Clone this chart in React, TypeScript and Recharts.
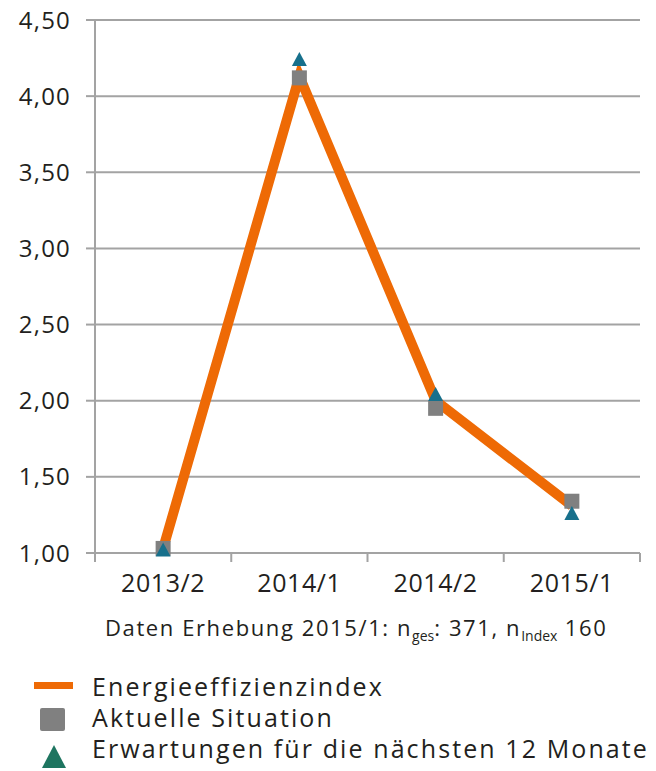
import { ComposedChart, Line, XAxis, YAxis, CartesianGrid } from 'recharts'

const perioden = ['2013/2', '2014/1', '2014/2', '2015/1']
const energieIndex = [1.03, 4.13, 2.0, 1.31]
const aktuelleSituation = [1.03, 4.12, 1.95, 1.34]
const erwartungen = [1.02, 4.24, 2.04, 1.26]
const yTicks = [1, 1.5, 2, 2.5, 3, 3.5, 4, 4.5]

const data = perioden.map((p, i) => ({
  periode: p,
  index: energieIndex[i],
  aktuell: aktuelleSituation[i],
  erwartung: erwartungen[i],
}))

const ORANGE = '#EE6A05'
const GRAU = '#808080'
const BLAU = '#17708C'
const GRUEN = '#1E7560'
const ACHSE = '#A3A3A3'
const TEXT = '#231F20'
const FONT = '"Open Sans", "Noto Sans", sans-serif'

const Quadrat = (props: any) => {
  const { cx, cy } = props
  if (cx == null || cy == null) return null
  return <rect x={cx - 7.5} y={cy - 7.5} width={15} height={15} fill={GRAU} />
}

const Dreieck = (props: any) => {
  const { cx, cy } = props
  if (cx == null || cy == null) return null
  return <path d={`M${cx},${cy - 7.5} L${cx + 7.5},${cy + 6.5} L${cx - 7.5},${cy + 6.5} Z`} fill={BLAU} />
}

// Beschriftung mittig, Teilstriche an den Kategoriegrenzen
const PeriodenTick = (props: any) => {
  const { x, y, payload, index, visibleTicksCount } = props
  const off = payload?.offset || 68
  const last = index === (visibleTicksCount ?? perioden.length) - 1
  return (
    <g>
      <line x1={x - off} x2={x - off} y1={y} y2={y + 9} stroke={ACHSE} strokeWidth={2} />
      {last && <line x1={x + off} x2={x + off} y1={y} y2={y + 9} stroke={ACHSE} strokeWidth={2} />}
      <text x={x} y={y + 39} textAnchor="middle" fill={TEXT} fontSize={25} fontFamily={FONT}
        letterSpacing={0.6}>{payload.value}</text>
    </g>
  )
}

const fmt = (v: number) => v.toFixed(2).replace('.', ',')

export default function App() {
  return (
    <div style={{ position: 'absolute', left: 0, top: 0, width: 656, height: 771, background: '#fff', fontFamily: FONT }}>
      <ComposedChart width={656} height={600} data={data}
        margin={{ top: 20, right: 16, left: 0, bottom: 0 }}>
        <CartesianGrid vertical={false} stroke={ACHSE} strokeWidth={2} />
        <XAxis dataKey="periode" scale="band" height={47} stroke={ACHSE} strokeWidth={2}
          tickSize={0} tickMargin={0} tickLine={false} tick={<PeriodenTick />} />
        <YAxis domain={[1, 4.5]} ticks={yTicks} width={95} stroke={ACHSE} strokeWidth={2}
          tickSize={9} tickFormatter={fmt} interval={0} tickLine={{ stroke: ACHSE, strokeWidth: 2 }}
          tick={{ fill: TEXT, fontSize: 24, fontFamily: FONT, dx: -13, letterSpacing: 1.2 }} />
        <Line dataKey="index" stroke={ORANGE} strokeWidth={10} dot={false}
          isAnimationActive={false} strokeLinejoin="miter" />
        <Line dataKey="aktuell" stroke="none" dot={<Quadrat />} activeDot={false}
          isAnimationActive={false} />
        <Line dataKey="erwartung" stroke="none" dot={<Dreieck />} activeDot={false}
          isAnimationActive={false} />
      </ComposedChart>
      <div style={{ position: 'absolute', left: 105, top: 612, fontSize: 22, color: TEXT, letterSpacing: 1.6, whiteSpace: 'nowrap' }}>
        Daten Erhebung 2015/1: n<sub style={{ fontSize: 14, letterSpacing: 0 }}>ges</sub>: 371, n<sub style={{ fontSize: 14, letterSpacing: 0 }}>Index</sub> 160
      </div>
      <div style={{ position: 'absolute', left: 34, top: 671, fontSize: 25, color: TEXT, lineHeight: '31px', letterSpacing: 2.1, whiteSpace: 'nowrap' }}>
        <div style={{ display: 'flex', alignItems: 'center' }}>
          <svg width={58} height={31}><rect x={0} y={11} width={39} height={7} fill={ORANGE} /></svg>
          <span>Energieeffizienzindex</span>
        </div>
        <div style={{ display: 'flex', alignItems: 'center' }}>
          <svg width={58} height={31}><rect x={6} y={6} width={25} height={23} rx={2} fill={GRAU} /></svg>
          <span>Aktuelle Situation</span>
        </div>
        <div style={{ display: 'flex', alignItems: 'center' }}>
          <svg width={58} height={31} style={{ overflow: 'visible' }}><path d="M20,12 L32,35 L8,35 Z" fill={GRUEN} /></svg>
          <span>Erwartungen für die nächsten 12 Monate</span>
        </div>
      </div>
    </div>
  )
}
